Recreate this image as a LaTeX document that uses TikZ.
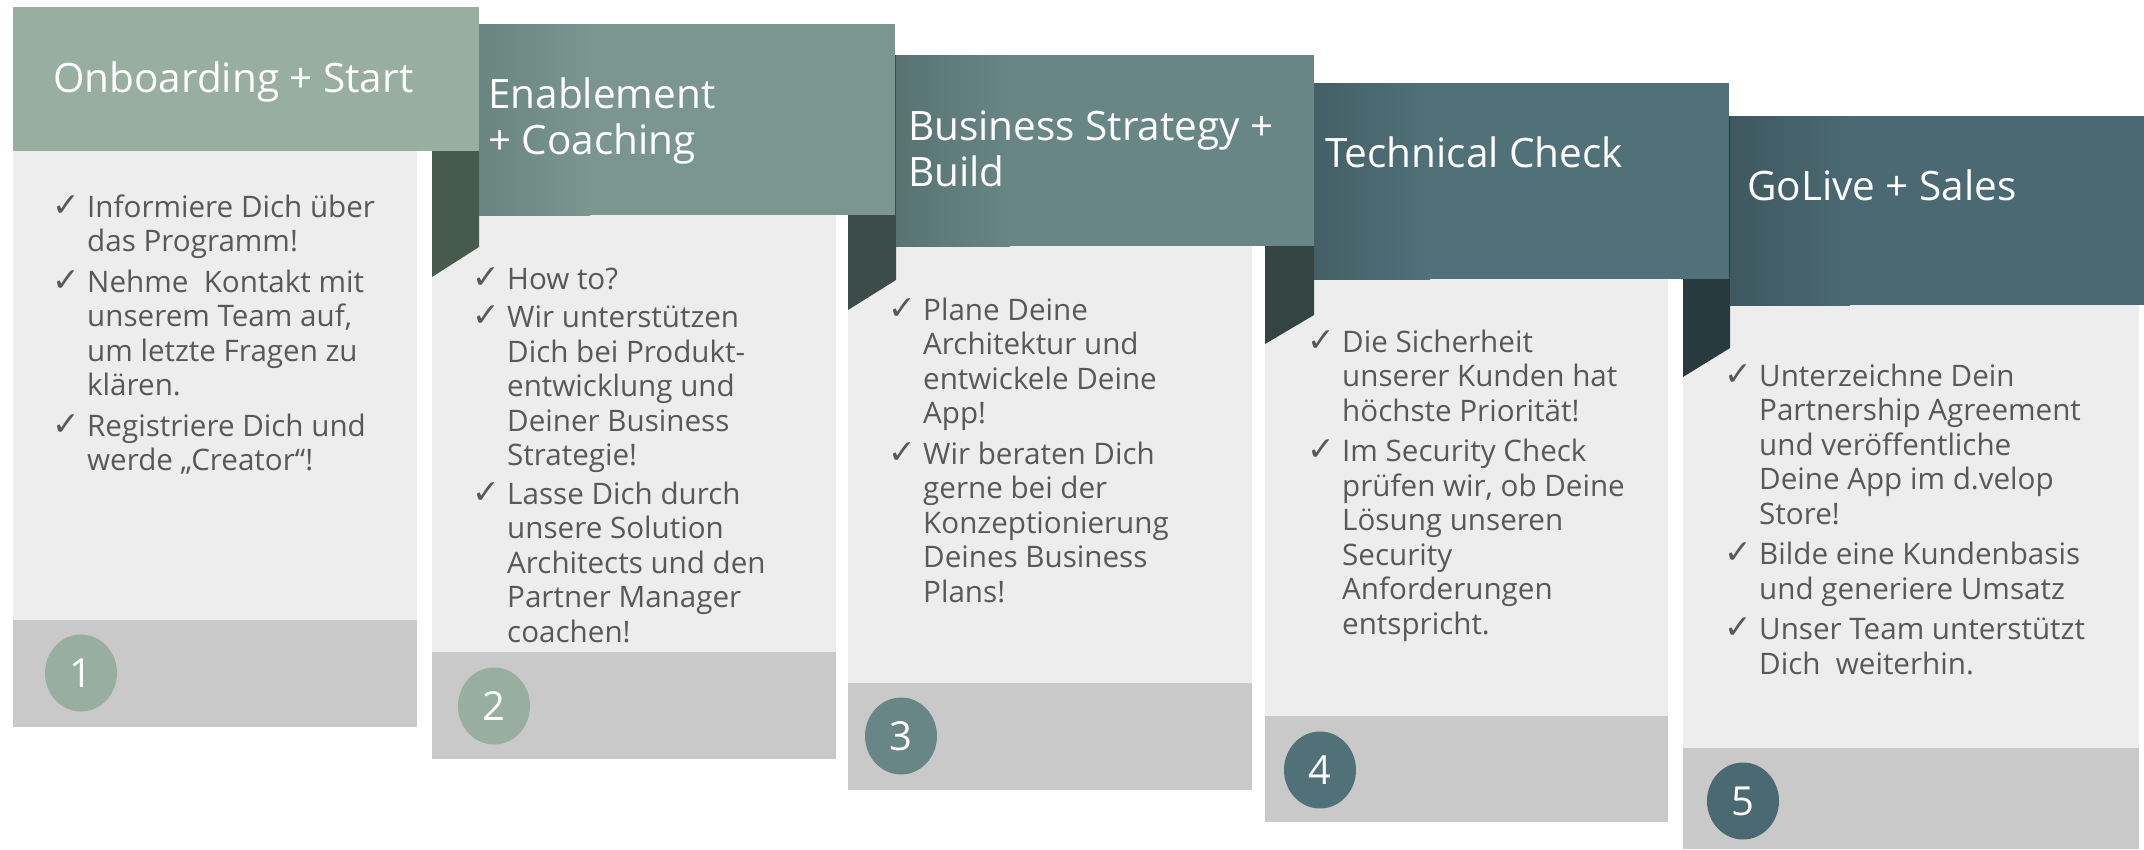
\documentclass[tikz,border=0pt]{standalone}
\usepackage{fontspec}
\setmainfont{Open Sans}
\newfontfamily\symf{DejaVu Sans}
\usetikzlibrary{shapes.geometric}
\definecolor{bodyc}{HTML}{EDEDED}
\definecolor{footc}{HTML}{C9C9C9}
\definecolor{txtc}{HTML}{58585A}
\definecolor{hA}{HTML}{97AEA0}
\definecolor{hB}{HTML}{7A968F}
\definecolor{hBd}{HTML}{6A8480}
\definecolor{hC}{HTML}{688686}
\definecolor{hCd}{HTML}{587272}
\definecolor{hD}{HTML}{507178}
\definecolor{hDd}{HTML}{445F66}
\definecolor{hE}{HTML}{4A6972}
\definecolor{hEd}{HTML}{3F5860}
\definecolor{fB}{HTML}{475A4E}
\definecolor{fC}{HTML}{3C4D49}
\definecolor{fD}{HTML}{334443}
\definecolor{fE}{HTML}{283A3E}
\newcommand{\ck}{\makebox[35pt][l]{\raisebox{1pt}{\symf\fontsize{33}{33}\selectfont ✓}}}
\begin{document}
\begin{tikzpicture}[x=1pt,y=-1pt,
  bodytxt/.style={anchor=base west,inner sep=0pt,text=txtc,font=\fontsize{29.6}{34.5}\selectfont},
  headtxt/.style={anchor=base west,inner sep=0pt,text=white,font=\fontsize{40.5}{46}\selectfont},
  circ/.style={ellipse,minimum width=72pt,minimum height=77pt,inner sep=0pt,text=white,font=\fontsize{40}{40}\selectfont}]
\useasboundingbox (0,0) rectangle (2144,849);
% bodies and footers
\fill[bodyc] (13,151) rectangle (417,727);
\fill[footc] (13,620) rectangle (417,727);
\fill[bodyc] (432,215) rectangle (836,759);
\fill[footc] (432,652) rectangle (836,759);
\fill[bodyc] (848,246) rectangle (1252,790);
\fill[footc] (848,683) rectangle (1252,790);
\fill[bodyc] (1265,279) rectangle (1668,822);
\fill[footc] (1265,716) rectangle (1668,822);
\fill[bodyc] (1683,305) rectangle (2139,849);
\fill[footc] (1683,748) rectangle (2139,849);
% numbers
\node[circ,fill=hA] (n1) at (81,673) {1};
\node[circ,fill=hA] (n2) at (494,706) {2};
\node[circ,fill=hC] (n3) at (901,736) {3};
\node[circ,fill=hD] (n4) at (1320,770) {4};
\node[circ,fill=hE] (n5) at (1743,801) {5};
% folds
\fill[fB] (432,24) -- (479,24) -- (479,247) -- (432,277) -- cycle;
\fill[fC] (848,55) -- (896,55) -- (896,280) -- (848,310) -- cycle;
\fill[fD] (1265,83) -- (1314,83) -- (1314,315) -- (1265,344) -- cycle;
\fill[fE] (1683,116) -- (1730,116) -- (1730,348) -- (1683,377) -- cycle;
% headers
\fill[hA] (13,7) rectangle (479,151);
\fill[hB] (479,24) rectangle (895,215);
\shade[left color=hBd,right color=hB] (479,24) rectangle (590,215);
\fill[hC] (896,55) rectangle (1314,246);
\shade[left color=hCd,right color=hC] (896,55) rectangle (1010,246);
\fill[hD] (1314,83) rectangle (1729,279);
\shade[left color=hDd,right color=hD] (1314,83) rectangle (1430,279);
\fill[hE] (1730,116) rectangle (2144,305);
\shade[left color=hEd,right color=hE] (1730,116) rectangle (1850,305);
% header texts
\node[headtxt] (h1) at (53,92) {Onboarding + Start};
\node[headtxt] (h2) at (488,108) {\begin{tabular}[t]{@{}l@{}}Enablement\\+ Coaching\end{tabular}};
\node[headtxt] (h3) at (908,140) {\begin{tabular}[t]{@{}l@{}}Business Strategy +\\Build\end{tabular}};
\node[headtxt] (h4) at (1325,167) {Technical Check};
\node[headtxt] (h5) at (1747,200) {GoLive + Sales};
% body texts
\node[bodytxt] (t1) at (52,217) {\begin{tabular}[t]{@{}l@{}l@{}}
\ck & Informiere Dich über\\
 & das Programm!\\[6pt]
\ck & Nehme\ \ Kontakt mit\\
 & unserem Team auf,\\
 & um letzte Fragen zu\\
 & klären.\\[6pt]
\ck & Registriere Dich und\\
 & werde „Creator“!
\end{tabular}};
\node[bodytxt] (t2) at (472,289) {\begin{tabular}[t]{@{}l@{}l@{}}
\ck & How to?\\[4pt]
\ck & Wir unterstützen\\
 & Dich bei Produkt-\\
 & entwicklung und\\
 & Deiner Business\\
 & Strategie!\\[4pt]
\ck & Lasse Dich durch\\
 & unsere Solution\\
 & Architects und den\\
 & Partner Manager\\
 & coachen!
\end{tabular}};
\node[bodytxt] (t3) at (888,320) {\begin{tabular}[t]{@{}l@{}l@{}}
\ck & Plane Deine\\
 & Architektur und\\
 & entwickele Deine\\
 & App!\\[6pt]
\ck & Wir beraten Dich\\
 & gerne bei der\\
 & Konzeptionierung\\
 & Deines Business\\
 & Plans!
\end{tabular}};
\node[bodytxt] (t4) at (1307,352) {\begin{tabular}[t]{@{}l@{}l@{}}
\ck & Die Sicherheit\\
 & unserer Kunden hat\\
 & höchste Priorität!\\[6pt]
\ck & Im Security Check\\
 & prüfen wir, ob Deine\\
 & Lösung unseren\\
 & Security\\
 & Anforderungen\\
 & entspricht.
\end{tabular}};
\node[bodytxt] (t5) at (1724,386) {\begin{tabular}[t]{@{}l@{}l@{}}
\ck & Unterzeichne Dein\\
 & Partnership Agreement\\
 & und veröffentliche\\
 & Deine App im d.velop\\
 & Store!\\[6pt]
\ck & Bilde eine Kundenbasis\\
 & und generiere Umsatz\\[6pt]
\ck & Unser Team unterstützt\\
 & Dich\ \ weiterhin.
\end{tabular}};
\end{tikzpicture}
\end{document}
